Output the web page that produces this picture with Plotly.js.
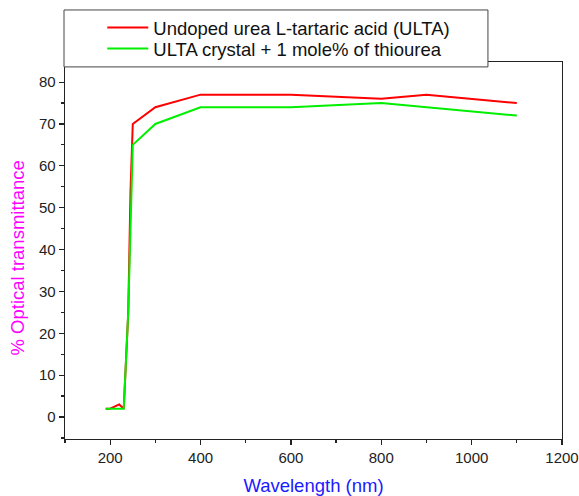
<!DOCTYPE html>
<html>
<head>
<meta charset="utf-8">
<script src="https://cdn.plot.ly/plotly-3.0.1.min.js"></script>
<style>html,body{margin:0;padding:0;background:#fff;}#chart{width:579px;height:496px;}</style>
</head>
<body>
<div id="chart"></div>
<script>
// Data
const undopedWavelength = [190, 200, 220, 230, 240, 245, 250, 300, 400, 600, 800, 900, 1100];
const undopedTransmittance = [2, 2, 3, 2, 25, 54, 70, 74, 77, 77, 76, 77, 75];
const dopedWavelength = [190, 200, 230, 240, 250, 300, 400, 600, 800, 1100];
const dopedTransmittance = [2, 2, 2, 25, 65, 70, 74, 74, 75, 72];
const seriesNames = ["Undoped urea L-tartaric acid (ULTA)", "ULTA crystal + 1 mole% of thiourea"];
const xTickVals = [200, 400, 600, 800, 1000, 1200];
const yTickVals = [0, 10, 20, 30, 40, 50, 60, 70, 80];

const font = "Liberation Sans, Arial, sans-serif";
const traces = [
  {x: undopedWavelength, y: undopedTransmittance, name: seriesNames[0], type: 'scatter', mode: 'lines',
   line: {color: '#ff0000', width: 2}, legend: 'legend'},
  {x: dopedWavelength, y: dopedTransmittance, name: seriesNames[1], type: 'scatter', mode: 'lines',
   line: {color: '#00ee00', width: 2}, legend: 'legend2'}
];
const axisCommon = {
  showgrid: false, zeroline: false, showline: true, linecolor: '#222', linewidth: 1.3,
  mirror: true, ticks: 'outside', ticklen: 5, tickwidth: 1.2, tickcolor: '#222',
  tickfont: {family: font, size: 15, color: '#222'}
};
const legendCommon = {x: 0.075, xanchor: 'left', yanchor: 'top', bgcolor: 'rgba(0,0,0,0)',
  borderwidth: 0, itemwidth: 41, font: {family: font, size: 18.5, color: '#111'}};
const layout = {
  width: 579, height: 496,
  margin: {l: 65, r: 17, t: 62, b: 57, autoexpand: false},
  paper_bgcolor: '#fff', plot_bgcolor: '#fff',
  font: {family: font},
  showlegend: true,
  xaxis: Object.assign({}, axisCommon, {
    range: [100, 1200], tickvals: xTickVals,
    minor: {dtick: 100, tick0: 100, ticks: 'outside', ticklen: 3, tickcolor: '#222'},
    title: {text: 'Wavelength (nm)', font: {family: font, size: 18.5, color: '#1a1aff'}, standoff: 14}
  }),
  yaxis: Object.assign({}, axisCommon, {
    range: [-5.25, 84.8], tickvals: yTickVals,
    minor: {dtick: 5, tick0: 0, ticks: 'outside', ticklen: 3, tickcolor: '#222'}
  }),
  annotations: [{text: '% Optical transmittance', xref: 'paper', yref: 'paper', x: -0.0956, y: 0.48,
    xanchor: 'center', yanchor: 'middle', textangle: -90, showarrow: false,
    font: {family: font, size: 18.5, color: '#ff00ff'}}],
  shapes: [{type: 'rect', xref: 'paper', yref: 'paper', x0: -0.002, x1: 0.851, y0: 0.987, y1: 1.138,
    fillcolor: '#fff', line: {color: '#444', width: 1}, layer: 'above'}],
  legend: Object.assign({}, legendCommon, {y: 1.1406}),
  legend2: Object.assign({}, legendCommon, {y: 1.0848})
};
Plotly.newPlot('chart', traces, layout, {displayModeBar: false, staticPlot: true});
</script>
</body>
</html>
